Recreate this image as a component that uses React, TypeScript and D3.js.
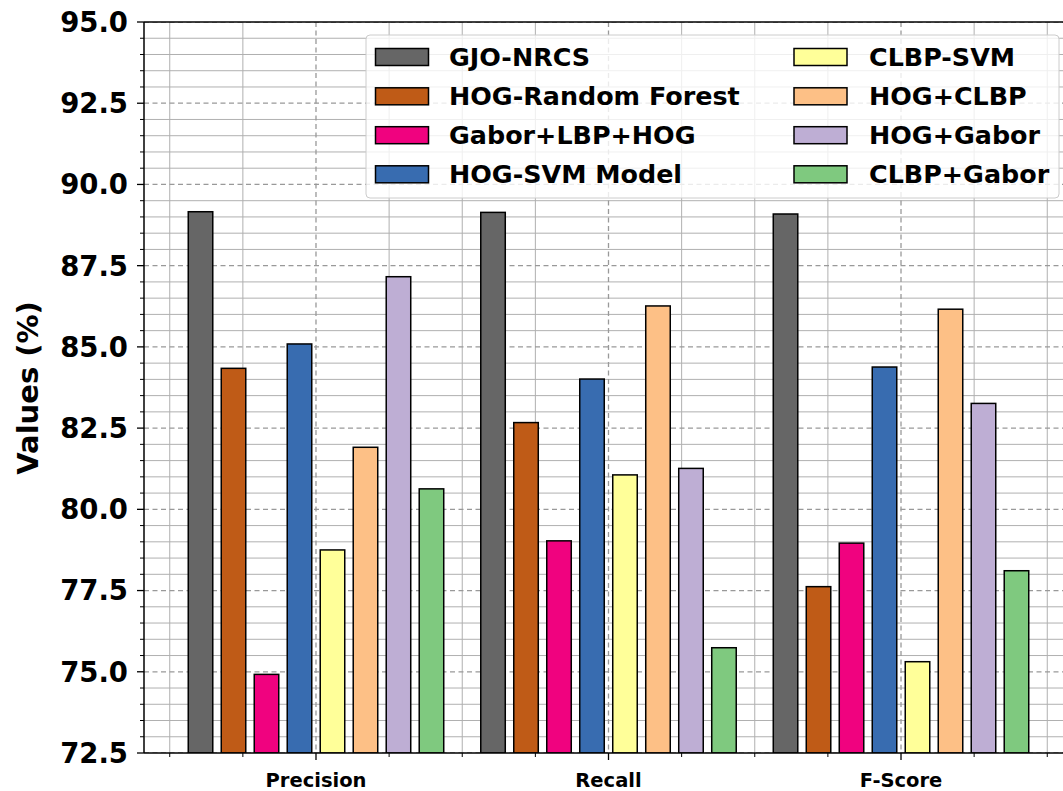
import React from "react";
import * as d3 from "d3";

const categories = ["Precision", "Recall", "F-Score"];
const seriesNames = [
  "GJO-NRCS",
  "HOG-Random Forest",
  "Gabor+LBP+HOG",
  "HOG-SVM Model",
  "CLBP-SVM",
  "HOG+CLBP",
  "HOG+Gabor",
  "CLBP+Gabor",
];
const seriesColors = ["#666666", "#bf5b17", "#f0027f", "#386cb0", "#ffff99", "#fdc086", "#beaed4", "#7fc97f"];
// values per series: [Precision, Recall, F-Score]
const gjoNrcs = [89.16, 89.14, 89.09];
const hogRandomForest = [84.34, 82.67, 77.62];
const gaborLbpHog = [74.92, 79.03, 78.96];
const hogSvm = [85.09, 84.01, 84.38];
const clbpSvm = [78.75, 81.06, 75.31];
const hogClbp = [81.91, 86.26, 86.16];
const hogGabor = [87.16, 81.26, 83.26];
const clbpGabor = [80.63, 75.74, 78.11];
const seriesValues = [gjoNrcs, hogRandomForest, gaborLbpHog, hogSvm, clbpSvm, hogClbp, hogGabor, clbpGabor];
const yTicks = [72.5, 75.0, 77.5, 80.0, 82.5, 85.0, 87.5, 90.0, 92.5, 95.0];

const W = 1063;
const H = 791;
const FONT = "DejaVu Sans, sans-serif";

export default function App() {
  const x = d3.scaleLinear().domain([-0.588, 2.588]).range([144, 1073]);
  const y = d3.scaleLinear().domain([72.5, 95]).range([753, 22]);
  const step = 0.1128;
  const bw = 0.0838;

  const yMinor = d3.range(72.5, 95.01, 0.5).filter((v) => Math.abs(((v - 72.5) / 2.5) - Math.round((v - 72.5) / 2.5)) > 1e-6);
  const xMinor: number[] = [];
  for (let c = -0.5; c <= 2.51; c += 0.25) {
    if (Math.abs(c - Math.round(c)) > 1e-6) xMinor.push(c);
  }

  const [x0, x1] = x.range();
  const [yb, yt] = y.range();

  const legendRows = [57, 96.3, 135.2, 174.3];

  return (
    <svg width={W} height={H} style={{ position: "absolute", left: 0, top: 0, background: "#fff" }} fontFamily={FONT}>
      <defs>
        <clipPath id="plot">
          <rect x={x0} y={yt} width={x1 - x0} height={yb - yt} />
        </clipPath>
      </defs>
      <g clipPath="url(#plot)">
        {yMinor.map((v) => (
          <line key={"ym" + v} x1={x0} x2={x1} y1={y(v)} y2={y(v)} stroke="#b0b0b0" strokeWidth={1} />
        ))}
        {xMinor.map((v) => (
          <line key={"xm" + v} x1={x(v)} x2={x(v)} y1={yt} y2={yb} stroke="#b0b0b0" strokeWidth={1} />
        ))}
        {yTicks.map((v) => (
          <line key={"yM" + v} x1={x0} x2={x1} y1={y(v)} y2={y(v)} stroke="#999999" strokeWidth={1.3} strokeDasharray="5,3.5" />
        ))}
        {categories.map((c, i) => (
          <line key={"xM" + c} x1={x(i)} x2={x(i)} y1={yt} y2={yb} stroke="#999999" strokeWidth={1.3} strokeDasharray="5,3.5" />
        ))}
        {seriesValues.map((vals, s) =>
          vals.map((v, ci) => {
            const cx = ci + (s - 3.5) * step;
            const left = x(cx - bw / 2);
            const right = x(cx + bw / 2);
            return (
              <rect
                key={s + "-" + ci}
                x={left}
                y={y(v)}
                width={right - left}
                height={yb - y(v)}
                fill={seriesColors[s]}
                stroke="#000"
                strokeWidth={1.5}
              />
            );
          })
        )}
      </g>
      {/* spines */}
      <line x1={x0} x2={x0} y1={yt} y2={yb} stroke="#000" strokeWidth={1.5} />
      <line x1={x0} x2={x1} y1={yb} y2={yb} stroke="#000" strokeWidth={1.5} />
      <line x1={x0} x2={x1} y1={yt} y2={yt} stroke="#000" strokeWidth={1.5} />
      {/* y ticks */}
      {yMinor.map((v) => (
        <line key={"ymt" + v} x1={x0 - 4} x2={x0} y1={y(v)} y2={y(v)} stroke="#000" strokeWidth={1} />
      ))}
      {yTicks.map((v) => (
        <g key={"yt" + v}>
          <line x1={x0 - 7} x2={x0} y1={y(v)} y2={y(v)} stroke="#000" strokeWidth={1.3} />
          <text x={x0 - 16} y={y(v)} dy="0.36em" textAnchor="end" fontSize={27.5} fontWeight="bold" fill="#000">
            {v.toFixed(1)}
          </text>
        </g>
      ))}
      {/* x ticks */}
      {xMinor.map((v) => (
        <line key={"xmt" + v} x1={x(v)} x2={x(v)} y1={yb} y2={yb + 4} stroke="#000" strokeWidth={1} />
      ))}
      {categories.map((c, i) => (
        <g key={"xt" + c}>
          <line x1={x(i)} x2={x(i)} y1={yb} y2={yb + 7} stroke="#000" strokeWidth={1.3} />
          <text x={x(i)} y={787} textAnchor="middle" fontSize={19.5} fontWeight="bold" fill="#000">
            {c}
          </text>
        </g>
      ))}
      {/* y label */}
      <text
        transform={`translate(38, 388) rotate(-90)`}
        textAnchor="middle"
        fontSize={29}
        fontWeight="bold"
        fill="#000"
      >
        Values (%)
      </text>
      {/* legend */}
      <rect x={366} y={35} width={693} height={163} rx={4} fill="#fff" fillOpacity={0.8} stroke="#cccccc" strokeWidth={1} />
      {seriesNames.map((name, i) => {
        const col = Math.floor(i / 4);
        const row = i % 4;
        const hx = col === 0 ? 375.5 : 794;
        const tx = col === 0 ? 449 : 869;
        const cy = legendRows[row];
        return (
          <g key={name}>
            <rect x={hx} y={cy - 8.5} width={53} height={17} fill={seriesColors[i]} stroke="#000" strokeWidth={1.5} />
            <text x={tx} y={cy} dy="0.36em" fontSize={25.4} fontWeight="bold" fill="#000">
              {name}
            </text>
          </g>
        );
      })}
    </svg>
  );
}
